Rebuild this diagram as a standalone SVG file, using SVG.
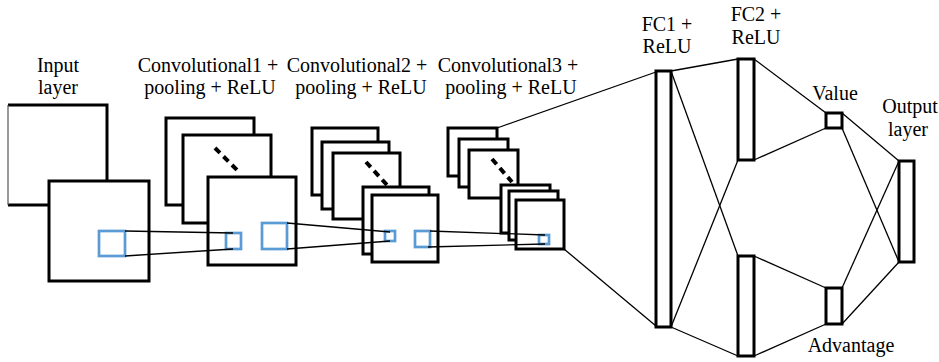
<svg xmlns="http://www.w3.org/2000/svg" width="939" height="362" viewBox="0 0 939 362">
<style>
.box{fill:#fff;stroke:#000;stroke-width:3}
.blue{fill:none;stroke:#5B9BD5;stroke-width:2.7}
.dash{stroke:#000;stroke-width:4;stroke-dasharray:7 5;fill:none}
.ln{stroke:#000;stroke-width:1.3;fill:none}
.t{font-size:20px;fill:#000;text-anchor:middle}
</style>
<rect width="939" height="362" fill="#fff"/>
<g id="labels" class="t" font-family="Liberation Serif, Times New Roman, DejaVu Serif, serif">
<text x="58" y="72">Input</text>
<text x="58" y="94">layer</text>
<text x="208" y="72">Convolutional1 +</text>
<text x="210" y="94">pooling + ReLU</text>
<text x="357" y="72">Convolutional2 +</text>
<text x="361" y="94">pooling + ReLU</text>
<text x="508" y="72">Convolutional3 +</text>
<text x="511" y="94">pooling + ReLU</text>
<text x="667" y="31">FC1 +</text>
<text x="667" y="53">ReLU</text>
<text x="756" y="21">FC2 +</text>
<text x="756" y="44">ReLU</text>
<text x="835" y="100">Value</text>
<text x="910" y="113">Output</text>
<text x="908" y="136">layer</text>
<text x="851" y="352">Advantage</text>
</g>
<g id="input">
<path d="M8,105 H107 V205 H8" fill="#fff" stroke="#000" stroke-width="3"/>
<line x1="8" y1="105" x2="8" y2="205" stroke="#555" stroke-width="1.2"/>
<rect class="box" x="49" y="181" width="100" height="100"/>
<rect class="blue" x="99" y="231" width="26" height="25"/>
</g>
<g id="conv1">
<rect class="box" x="166" y="118" width="88" height="87"/>
<rect class="box" x="183" y="135" width="88" height="88"/>
<line class="dash" x1="215" y1="148" x2="237" y2="170"/>
<rect class="box" x="208" y="177" width="88" height="88"/>
<rect class="blue" x="226" y="233" width="15" height="16"/>
<rect class="blue" x="262" y="223" width="25" height="26"/>
</g>
<g id="conv2">
<rect class="box" x="312" y="128" width="66" height="67"/>
<rect class="box" x="322" y="142" width="67" height="67"/>
<rect class="box" x="333" y="153" width="67" height="66"/>
<line class="dash" x1="366" y1="162" x2="387" y2="185"/>
<rect class="box" x="363" y="187" width="66" height="67"/>
<rect class="box" x="372" y="195" width="66" height="67"/>
<rect class="blue" x="385" y="231" width="10" height="10"/>
<rect class="blue" x="415" y="231" width="15" height="16"/>
</g>
<g id="conv3">
<rect class="box" x="448" y="128" width="49" height="48"/>
<rect class="box" x="459" y="139" width="49" height="48"/>
<rect class="box" x="469" y="150" width="49" height="48"/>
<line class="dash" x1="492" y1="159" x2="512" y2="182"/>
<rect class="box" x="501" y="185" width="49" height="48"/>
<rect class="box" x="509" y="191" width="49" height="49"/>
<rect class="box" x="516" y="200" width="48" height="49"/>
<rect class="blue" x="539" y="235" width="10" height="9"/>
</g>
<g id="fc1"><rect class="box" x="656" y="71" width="15" height="256"/></g>
<g id="fc2-upper"><rect class="box" x="738" y="59" width="16" height="101"/></g>
<g id="fc2-lower"><rect class="box" x="738" y="256" width="16" height="100"/></g>
<g id="value"><rect class="box" x="826" y="113" width="16" height="15"/></g>
<g id="advantage"><rect class="box" x="826" y="288" width="16" height="36"/></g>
<g id="output"><rect class="box" x="899" y="161" width="15" height="101"/></g>
<g id="connectors" class="ln">
<line x1="125" y1="231" x2="233" y2="233"/>
<line x1="125" y1="256" x2="233" y2="249"/>
<line x1="287" y1="223" x2="390" y2="232"/>
<line x1="287" y1="249" x2="390" y2="241"/>
<line x1="430" y1="231" x2="545" y2="235"/>
<line x1="428" y1="247" x2="545" y2="244"/>
<line x1="497" y1="128" x2="656" y2="72"/>
<line x1="564" y1="249" x2="656" y2="326"/>
<line x1="671" y1="71" x2="738" y2="59"/>
<line x1="671" y1="71" x2="738" y2="256"/>
<line x1="671" y1="327" x2="738" y2="160"/>
<line x1="671" y1="327" x2="738" y2="356"/>
<line x1="754" y1="59" x2="826" y2="113"/>
<line x1="754" y1="160" x2="826" y2="128"/>
<line x1="754" y1="256" x2="826" y2="288"/>
<line x1="754" y1="356" x2="826" y2="324"/>
<line x1="842" y1="113" x2="899" y2="161"/>
<line x1="842" y1="128" x2="899" y2="262"/>
<line x1="842" y1="288" x2="899" y2="161"/>
<line x1="842" y1="324" x2="899" y2="262"/>
</g>
</svg>
